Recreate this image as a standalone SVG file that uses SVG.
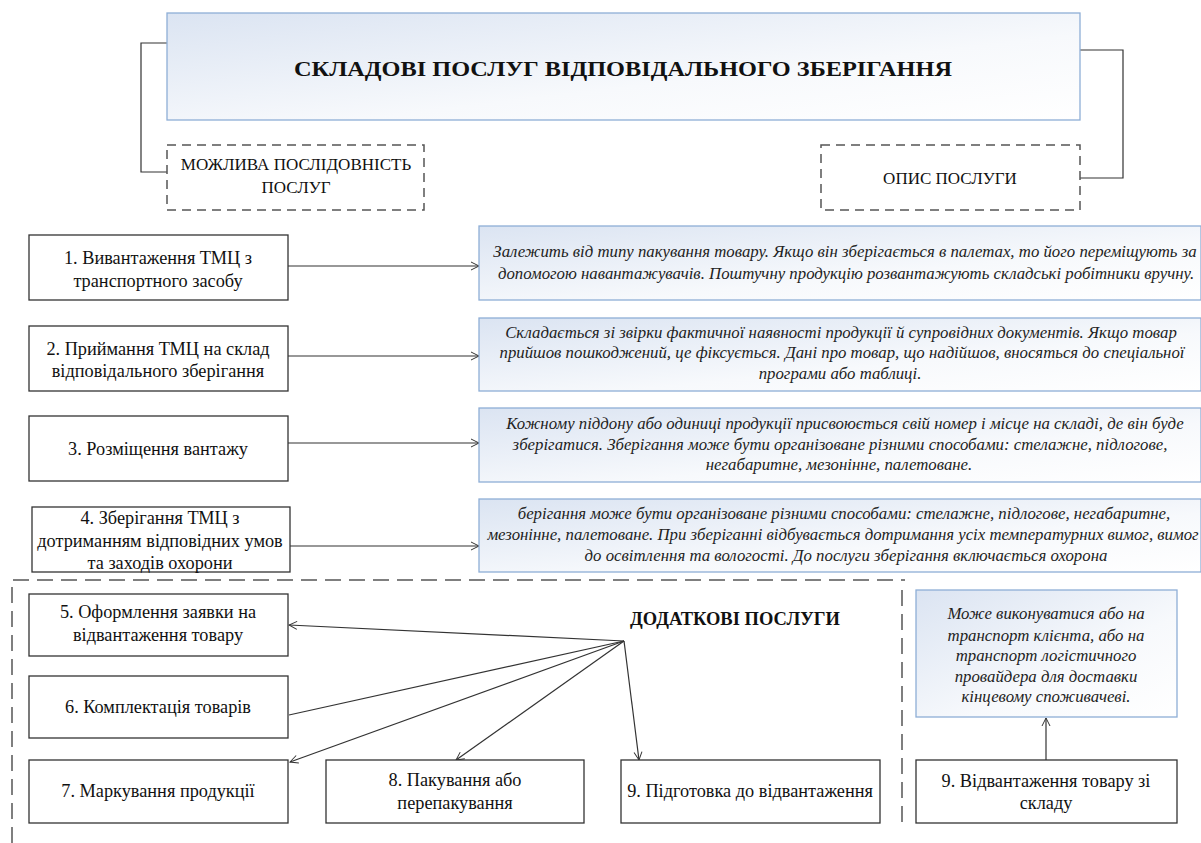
<svg xmlns="http://www.w3.org/2000/svg" width="1201" height="843" viewBox="0 0 1201 843">
<defs>
<linearGradient id="g" x1="0" y1="0" x2="1" y2="1">
<stop offset="0" stop-color="#dbe4f2"/>
<stop offset="0.6" stop-color="#f7f9fc"/>
<stop offset="1" stop-color="#ffffff"/>
</linearGradient>
<marker id="a" markerWidth="10" markerHeight="10" refX="9" refY="5" orient="auto" markerUnits="userSpaceOnUse">
<path d="M1,1 L9,5 L1,9" fill="none" stroke="#333" stroke-width="1"/>
</marker>
</defs>
<style>
.box{fill:#fff;stroke:#333;stroke-width:1.3}
.desc{fill:url(#g);stroke:#8eaed6;stroke-width:1.3}
.dash{fill:#fff;stroke:#555;stroke-width:1.5;stroke-dasharray:9,6}
.t{font-family:"Liberation Serif","Times New Roman",serif;font-size:18.3px;fill:#111;text-anchor:middle}
.h{font-family:"Liberation Serif","Times New Roman",serif;font-size:17px;fill:#111;text-anchor:middle}
.i{font-family:"Liberation Serif","Times New Roman",serif;font-size:16.8px;font-style:italic;fill:#222;text-anchor:middle}
.b{font-family:"Liberation Serif","Times New Roman",serif;font-weight:bold;fill:#111;text-anchor:middle}
.ln{fill:none;stroke:#333;stroke-width:1.2}
</style>
<rect width="1201" height="843" fill="#fff"/>

<g id="outer-dashed">
<path d="M12,843 L12,580 L905,580" fill="none" stroke="#555" stroke-width="1.5" stroke-dasharray="16,8"/>
<path d="M902,590 L902,830" fill="none" stroke="#555" stroke-width="1.5" stroke-dasharray="16,8"/>
</g>

<g id="connectors">
<path class="ln" d="M167,43 L141,43 L141,172 L167,172"/>
<path class="ln" d="M1080,50 L1123,50 L1123,178 L1080,178"/>
<line class="ln" x1="288" y1="266" x2="479" y2="266" marker-end="url(#a)"/>
<line class="ln" x1="288" y1="356" x2="479" y2="356" marker-end="url(#a)"/>
<line class="ln" x1="288" y1="443" x2="479" y2="443" marker-end="url(#a)"/>
<line class="ln" x1="290" y1="546" x2="479" y2="546" marker-end="url(#a)"/>
<line class="ln" x1="624" y1="641" x2="289" y2="625" marker-end="url(#a)"/>
<line class="ln" x1="289" y1="715" x2="624" y2="641"/>
<line class="ln" x1="624" y1="641" x2="290" y2="762" marker-end="url(#a)"/>
<line class="ln" x1="624" y1="641" x2="456" y2="760" marker-end="url(#a)"/>
<line class="ln" x1="624" y1="641" x2="639" y2="760" marker-end="url(#a)"/>
<line class="ln" x1="1046" y1="760" x2="1046" y2="718" marker-end="url(#a)"/>
</g>

<g id="title">
<rect class="desc" x="167" y="13" width="913" height="107"/>
<text class="b" x="623" y="76" font-size="22" textLength="658" lengthAdjust="spacingAndGlyphs">СКЛАДОВІ ПОСЛУГ ВІДПОВІДАЛЬНОГО ЗБЕРІГАННЯ</text>
</g>

<g id="seq-header">
<rect class="dash" x="167" y="145" width="257" height="65"/>
<text class="h" x="296" y="170">МОЖЛИВА ПОСЛІДОВНІСТЬ</text>
<text class="h" x="296" y="193">ПОСЛУГ</text>
</g>

<g id="desc-header">
<rect class="dash" x="821" y="145" width="259" height="65"/>
<text class="h" x="950" y="184">ОПИС ПОСЛУГИ</text>
</g>

<g id="n1">
<rect class="box" x="29" y="235" width="259" height="65"/>
<text class="t" x="158" y="264">1. Вивантаження ТМЦ  з</text>
<text class="t" x="158" y="287">транспортного засобу</text>
</g>
<g id="n2">
<rect class="box" x="29" y="326" width="259" height="65"/>
<text class="t" x="158" y="355">2. Приймання ТМЦ на склад</text>
<text class="t" x="158" y="377">відповідального зберігання</text>
</g>
<g id="n3">
<rect class="box" x="29" y="416" width="259" height="65"/>
<text class="t" x="158" y="455">3. Розміщення вантажу</text>
</g>
<g id="n4">
<rect class="box" x="32" y="507" width="258" height="65"/>
<text class="t" x="160" y="524">4. Зберігання ТМЦ з</text>
<text class="t" x="160" y="547">дотриманням відповідних умов</text>
<text class="t" x="160" y="569">та заходів охорони</text>
</g>

<g id="d1">
<rect class="desc" x="479" y="226" width="722" height="74"/>
<text class="i" x="845" y="257">Залежить від типу пакування товару. Якщо він зберігається в палетах, то його переміщують за</text>
<text class="i" x="846" y="279">допомогою навантажувачів. Поштучну продукцію розвантажують складські робітники вручну.</text>
</g>
<g id="d2">
<rect class="desc" x="479" y="318" width="722" height="73"/>
<text class="i" x="841" y="338">Складається зі звірки фактичної наявності продукції й супровідних документів. Якщо товар</text>
<text class="i" x="842" y="358">прийшов пошкоджений, це фіксується. Дані про товар, що надійшов, вносяться до спеціальної</text>
<text class="i" x="840" y="379">програми або таблиці.</text>
</g>
<g id="d3">
<rect class="desc" x="479" y="408" width="722" height="74"/>
<text class="i" x="845" y="429">Кожному піддону або одиниці продукції присвоюється свій номер і місце на складі, де він буде</text>
<text class="i" x="840" y="450">зберігатися. Зберігання може бути організоване різними способами:  стелажне, підлогове,</text>
<text class="i" x="839" y="470">негабаритне, мезонінне, палетоване.</text>
</g>
<g id="d4">
<rect class="desc" x="479" y="499" width="722" height="73"/>
<text class="i" x="844" y="519">берігання може бути організоване різними способами: стелажне, підлогове, негабаритне,</text>
<text class="i" x="843" y="540">мезонінне, палетоване. При зберіганні відбувається дотримання усіх температурних вимог, вимог</text>
<text class="i" x="846" y="561">до освітлення та вологості. До послуги зберігання включається охорона</text>
</g>

<g id="extra-label">
<text class="b" x="735" y="625" font-size="18.5">ДОДАТКОВІ ПОСЛУГИ</text>
</g>

<g id="n5">
<rect class="box" x="29" y="594" width="259" height="62"/>
<text class="t" x="158" y="618">5. Оформлення заявки на</text>
<text class="t" x="158" y="641">відвантаження товару</text>
</g>
<g id="n6">
<rect class="box" x="29" y="676" width="259" height="62"/>
<text class="t" x="158" y="713">6. Комплектація товарів</text>
</g>
<g id="n7">
<rect class="box" x="29" y="760" width="259" height="63"/>
<text class="t" x="158" y="797">7. Маркування продукції</text>
</g>
<g id="n8">
<rect class="box" x="326" y="760" width="258" height="63"/>
<text class="t" x="455" y="786">8. Пакування або</text>
<text class="t" x="455" y="809">перепакування</text>
</g>
<g id="n9a">
<rect class="box" x="621" y="760" width="259" height="63"/>
<text class="t" x="750" y="797">9. Підготовка до відвантаження</text>
</g>

<g id="d9">
<rect class="desc" x="916" y="590" width="261" height="127"/>
<text class="i" x="1046" y="619">Може виконуватися або на</text>
<text class="i" x="1046" y="641">транспорт клієнта, або на</text>
<text class="i" x="1046" y="661">транспорт логістичного</text>
<text class="i" x="1046" y="682">провайдера для доставки</text>
<text class="i" x="1046" y="702">кінцевому споживачеві.</text>
</g>
<g id="n9b">
<rect class="box" x="916" y="760" width="261" height="63"/>
<text class="t" x="1046" y="787">9. Відвантаження товару зі</text>
<text class="t" x="1046" y="809">складу</text>
</g>
</svg>
